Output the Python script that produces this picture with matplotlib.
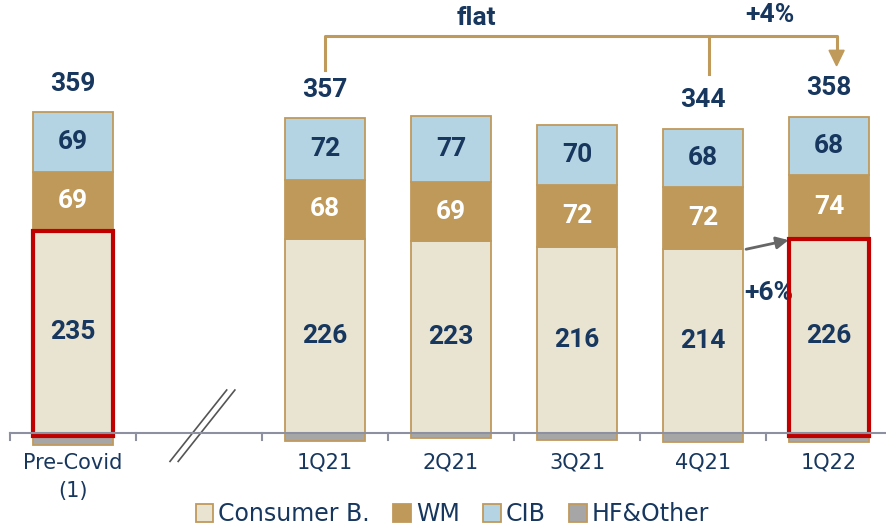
import numpy as np
import matplotlib.pyplot as plt
from matplotlib.patches import Rectangle, Polygon

# data
categories = ["Pre-Covid\n(1)", "", "1Q21", "2Q21", "3Q21", "4Q21", "1Q22"]
consumer = [235, 0, 226, 223, 216, 214, 226]
wm = [69, 0, 68, 69, 72, 72, 74]
cib = [69, 0, 72, 77, 70, 68, 68]
hf_other = [-14, 0, -9, -6, -8, -10, -10]
totals = [359, None, 357, None, None, 344, 358]

navy = "#17375e"
tan = "#c09a5b"
c_cons = "#e9e3d1"
c_wm = "#bf9959"
c_cib = "#b4d3e3"
c_hf = "#a6a6a6"
red = "#c00000"
num_font = ["Roboto", "DejaVu Sans"]

fig = plt.figure(figsize=(8.87, 5.29), dpi=100)
ax = fig.add_axes([0, 0, 1, 1])
ax.set_xlim(-0.579, 6.46)
ax.set_ylim(-111.6, 503.5)
ax.axis("off")

x = np.arange(len(categories))
w = 0.63
for i in x:
    if categories[i] == "":
        continue
    ax.bar(i, hf_other[i], w, color=c_hf, edgecolor=tan, linewidth=1.3)
    ax.bar(i, consumer[i], w, color=c_cons, edgecolor=tan, linewidth=1.3)
    ax.bar(i, wm[i], w, bottom=consumer[i], color=c_wm, edgecolor=tan, linewidth=1.3)
    ax.bar(i, cib[i], w, bottom=consumer[i] + wm[i], color=c_cib, edgecolor=tan, linewidth=1.3)
    ax.text(i, consumer[i] / 2, str(consumer[i]), ha="center", va="center",
            fontsize=19, fontweight="bold", color=navy, family=num_font)
    ax.text(i, consumer[i] + wm[i] / 2, str(wm[i]), ha="center", va="center",
            fontsize=19, fontweight="bold", color="white", family=num_font)
    ax.text(i, consumer[i] + wm[i] + cib[i] / 2, str(cib[i]), ha="center", va="center",
            fontsize=19, fontweight="bold", color=navy, family=num_font)
    if totals[i] is not None:
        top = consumer[i] + wm[i] + cib[i]
        ax.text(i, top + 33, str(totals[i]), ha="center", va="center",
                fontsize=19, fontweight="bold", color=navy, family=num_font)

# red highlight boxes
for i in [0, 6]:
    ax.add_patch(Rectangle((i - w / 2, -4), w, consumer[i] + 4, fill=False,
                           edgecolor=red, linewidth=3, zorder=5))

# x axis with ticks between categories
ax.plot([-0.5, 6.46], [0, 0], color="#8c90a0", linewidth=1.5, zorder=6)
for b in np.arange(-0.5, 7, 1.0):
    ax.plot([b, b], [0, -8], color="#8c90a0", linewidth=1.5, clip_on=False)
for i, lab in enumerate(categories):
    ax.text(i, -23, lab, ha="center", va="top", fontsize=15, color=navy,
            linespacing=1.5)

# axis break marks
for dx in [0, 0.065]:
    ax.plot([0.77 + dx, 1.22 + dx], [-33, 50], color="#555555", linewidth=1.2)

# bracket on top
yb = 462
ax.plot([2.0, 2.0, 6.06, 6.06], [422, yb, yb, 445], color=tan, linewidth=2.2)
ax.plot([5.05, 5.05], [yb, 418], color=tan, linewidth=2.2)
ax.add_patch(Polygon([[6.0, 445], [6.12, 445], [6.06, 427]], closed=True,
                     color=tan))
ax.text(3.2, 483, "flat", ha="center", va="center", fontsize=19,
        fontweight="bold", color=navy, family=num_font)
ax.text(5.53, 486, "+4%", ha="center", va="center", fontsize=19,
        fontweight="bold", color=navy, family=num_font)

# +6% arrow
ax.annotate("", xy=(5.7, 225), xytext=(5.32, 213),
            arrowprops=dict(arrowstyle="-|>", color="#666666", lw=2,
                            mutation_scale=18))
ax.text(5.52, 163, "+6%", ha="center", va="center", fontsize=19,
        fontweight="bold", color=navy, family=num_font)

# legend
handles = [Rectangle((0, 0), 1, 1, facecolor=c, edgecolor=tan, linewidth=1.3)
           for c in [c_cons, c_wm, c_cib, c_hf]]
fig.legend(handles, ["Consumer B.", "WM", "CIB", "HF&Other"], loc="lower center",
           bbox_to_anchor=(0.51, -0.035), ncol=4, frameon=False, fontsize=17,
           handlelength=0.75, handleheight=0.75, handletextpad=0.2,
           columnspacing=1.0, labelcolor=navy)

fig.savefig("out.png", dpi=100)
